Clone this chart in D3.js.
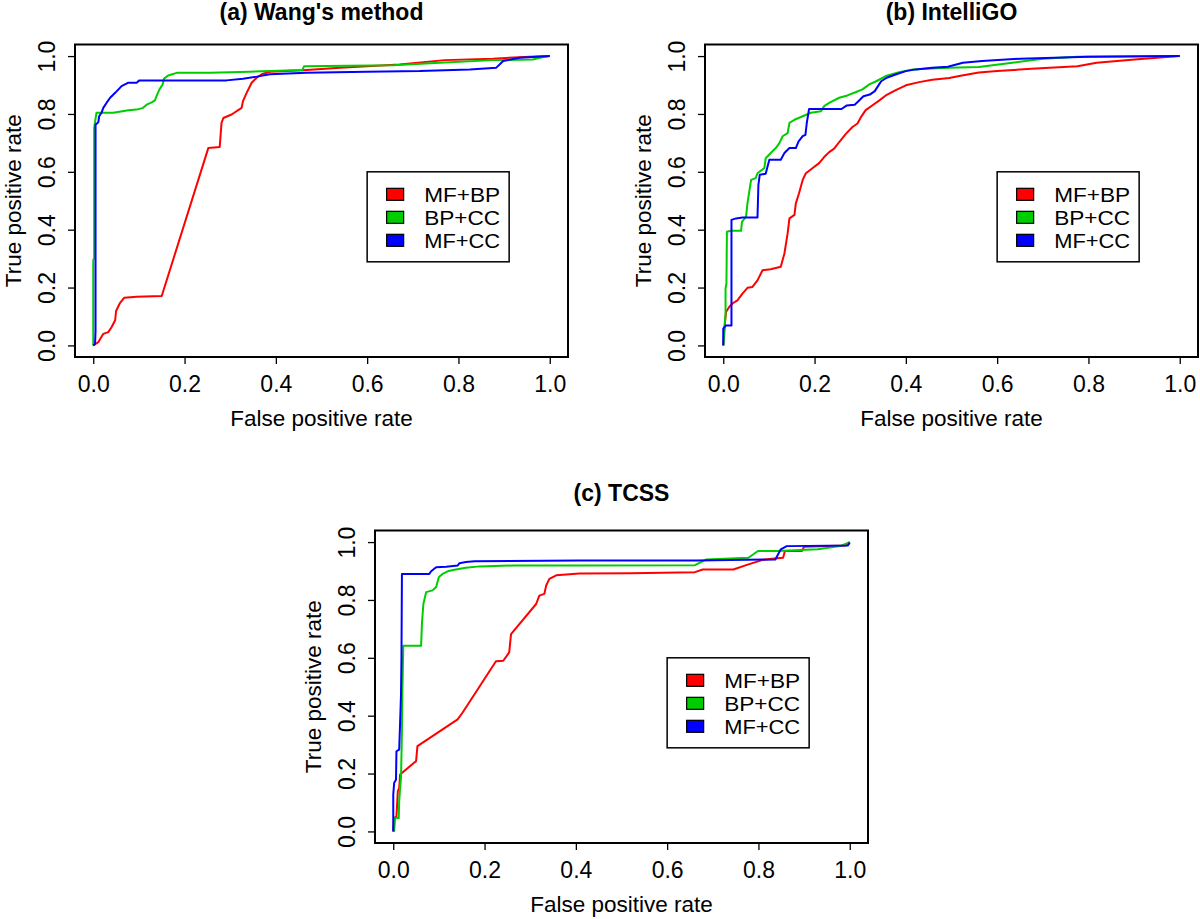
<!DOCTYPE html>
<html>
<head>
<meta charset="utf-8">
<script src="https://cdn.jsdelivr.net/npm/d3@7"></script>
<style>
  body { margin: 0; background: #fff; }
  svg { display: block; font-family: "Liberation Sans", Arial, Helvetica, sans-serif; }
</style>
</head>
<body>
<svg id="chart" width="1200" height="919"></svg>
<script>
// ---------------- Data (FPR, TPR) ----------------
const seriesNames = ["MF+BP", "BP+CC", "MF+CC"];
const seriesColors = ["#FF0000", "#00CD00", "#0000FF"];
const panelTitles = ["(a) Wang's method", "(b) IntelliGO", "(c) TCSS"];
const xLabel = "False positive rate";
const yLabel = "True positive rate";
const tickValues = [0, 0.2, 0.4, 0.6, 0.8, 1.0];

const wangMFBP = [[0,0],[.011,.011],[.022,.04],[.033,.046],[.040,.063],[.048,.087],[.050,.119],[.058,.145],[.068,.165],[.095,.168],[.150,.171],[.252,.682],[.277,.686],[.281,.769],[.285,.786],[.303,.798],[.325,.821],[.328,.844],[.336,.873],[.347,.908],[.358,.925],[.369,.937],[.387,.946],[.460,.951],[.540,.960],[.671,.971],[.770,.986],[.876,.991],[.956,.998],[1,1]];
const wangBPCC = [[0,0],[0,.295],[.002,.30],[.002,.752],[.007,.804],[.044,.804],[.077,.813],[.095,.815],[.109,.821],[.117,.832],[.128,.840],[.135,.847],[.140,.867],[.145,.885],[.152,.902],[.155,.922],[.164,.933],[.183,.942],[.256,.942],[.343,.946],[.387,.948],[.458,.952],[.462,.965],[.657,.968],[.759,.977],[.876,.986],[.963,.988],[.978,.994],[1,1]];
const wangMFCC = [[0,0],[.004,.005],[.005,.05],[.005,.763],[.011,.771],[.013,.792],[.018,.804],[.022,.821],[.029,.838],[.037,.856],[.048,.873],[.062,.896],[.077,.908],[.095,.908],[.101,.916],[.292,.916],[.328,.922],[.358,.929],[.387,.937],[.467,.942],[.599,.946],[.715,.948],[.825,.954],[.883,.960],[.898,.983],[.934,.994],[1,1]];

const intelliMFBP = [[0,0],[.004,.081],[.006,.116],[.013,.133],[.020,.145],[.031,.156],[.042,.179],[.053,.199],[.064,.202],[.075,.225],[.086,.260],[.104,.263],[.126,.272],[.134,.318],[.141,.387],[.145,.439],[.156,.451],[.159,.491],[.166,.526],[.174,.572],[.181,.595],[.196,.613],[.210,.630],[.221,.651],[.232,.668],[.243,.680],[.254,.703],[.269,.732],[.283,.755],[.294,.767],[.302,.790],[.312,.813],[.327,.830],[.342,.847],[.356,.864],[.378,.882],[.400,.899],[.429,.910],[.458,.918],[.495,.924],[.520,.932],[.560,.943],[.600,.948],[.675,.956],[.776,.965],[.818,.977],[.901,.988],[1,1]];
const intelliBPCC = [[0,0],[.002,.03],[.002,.052],[.005,.11],[.005,.197],[.007,.214],[.008,.393],[.017,.396],[.039,.396],[.041,.427],[.050,.445],[.053,.491],[.057,.532],[.061,.572],[.071,.578],[.075,.595],[.090,.613],[.093,.647],[.104,.665],[.115,.682],[.123,.699],[.130,.723],[.141,.734],[.145,.769],[.156,.780],[.174,.792],[.192,.804],[.214,.809],[.221,.827],[.232,.838],[.254,.856],[.272,.864],[.291,.876],[.305,.885],[.320,.902],[.335,.913],[.356,.931],[.385,.944],[.415,.954],[.444,.956],[.495,.960],[.560,.962],[.633,.977],[.700,.991],[.776,.998],[1,1]];
const intelliMFCC = [[0,0],[0,.058],[.006,.069],[.018,.069],[.018,.434],[.028,.439],[.042,.442],[.075,.442],[.077,.555],[.080,.590],[.093,.593],[.098,.624],[.101,.642],[.126,.642],[.134,.665],[.145,.682],[.159,.682],[.165,.705],[.174,.723],[.180,.728],[.183,.769],[.188,.817],[.214,.817],[.259,.817],[.270,.829],[.288,.832],[.296,.844],[.307,.861],[.321,.867],[.332,.879],[.339,.896],[.346,.913],[.358,.925],[.379,.937],[.400,.948],[.422,.954],[.458,.960],[.492,.963],[.525,.977],[.567,.983],[.650,.991],[.800,.998],[1,1]];

const tcssMFBP = [[0,0],[0,.006],[.002,.046],[.007,.052],[.010,.139],[.013,.150],[.015,.197],[.050,.243],[.053,.295],[.141,.387],[.152,.411],[.225,.588],[.241,.590],[.254,.619],[.258,.682],[.313,.786],[.320,.815],[.331,.821],[.335,.850],[.342,.873],[.357,.885],[.379,.888],[.408,.891],[.520,.892],[.661,.896],[.678,.905],[.745,.905],[.778,.923],[.812,.940],[.854,.946],[.858,.969],[.895,.969],[.900,.984],[.990,.988],[1,1]];
const tcssBPCC = [[0,0],[.002,.002],[.004,.046],[.012,.046],[.013,.104],[.015,.150],[.017,.185],[.019,.347],[.020,.486],[.022,.642],[.061,.642],[.063,.723],[.066,.786],[.072,.827],[.086,.833],[.094,.845],[.100,.879],[.108,.890],[.119,.899],[.134,.904],[.159,.911],[.189,.916],[.262,.919],[.408,.919],[.661,.920],[.686,.940],[.778,.946],[.799,.969],[.841,.969],[.930,.975],[.979,.986],[1,1]];
const tcssMFCC = [[0,0],[0,.127],[.002,.168],[.006,.179],[.007,.277],[.013,.283],[.015,.376],[.017,.474],[.018,.601],[.019,.890],[.079,.890],[.083,.899],[.094,.913],[.116,.915],[.141,.919],[.145,.927],[.159,.931],[.178,.934],[.408,.936],[.665,.936],[.837,.940],[.849,.975],[.862,.986],[.996,.988],[1,.998]];

const panelSeries = [
  [wangMFBP, wangBPCC, wangMFCC],
  [intelliMFBP, intelliBPCC, intelliMFCC],
  [tcssMFBP, tcssBPCC, tcssMFCC]
];

// ---------------- Layout ----------------
const W = 493, H = 312.5;
const panelPos = [
  {left: 75, top: 44.5, titleY: -25},
  {left: 705, top: 44.5, titleY: -25},
  {left: 375, top: 530.5, titleY: -30}
];
const FONT = 22.5;
const TICKFONT = 23;
const LEGFONT = 21;

const svg = d3.select("#chart");
svg.append("rect").attr("width", 1200).attr("height", 919).attr("fill", "#fff");

const x = d3.scaleLinear().domain([-0.04, 1.04]).range([0, W]);
const y = d3.scaleLinear().domain([-0.04, 1.04]).range([H, 0]);
const fmt = d3.format(".1f");

panelPos.forEach((p, i) => {
  const g = svg.append("g").attr("transform", `translate(${p.left},${p.top})`);

  // title
  g.append("text")
    .attr("x", W / 2).attr("y", p.titleY)
    .attr("text-anchor", "middle")
    .attr("font-size", 23).attr("font-weight", "bold")
    .text(panelTitles[i]);

  // x axis
  const xa = g.append("g").attr("transform", `translate(0,${H})`)
    .call(d3.axisBottom(x).tickValues(tickValues).tickSize(7).tickSizeOuter(0).tickFormat(fmt));
  xa.select(".domain").remove();
  xa.selectAll(".tick line").attr("stroke", "#000").attr("stroke-width", 1.3);
  xa.selectAll(".tick text")
    .attr("y", 35).attr("dy", null)
    .attr("font-size", TICKFONT).attr("font-family", null).attr("fill", "#000");

  // y axis
  const ya = g.append("g")
    .call(d3.axisLeft(y).tickValues(tickValues).tickSize(7).tickSizeOuter(0).tickFormat(fmt));
  ya.select(".domain").remove();
  ya.selectAll(".tick line").attr("stroke", "#000").attr("stroke-width", 1.3);
  ya.selectAll(".tick text")
    .attr("x", null).attr("dy", null)
    .attr("transform", "translate(-20,0) rotate(-90)")
    .attr("text-anchor", "middle")
    .attr("font-size", TICKFONT).attr("font-family", null).attr("fill", "#000");

  // axis titles
  g.append("text")
    .attr("x", W / 2).attr("y", H + 69)
    .attr("text-anchor", "middle").attr("font-size", FONT)
    .text(xLabel);
  g.append("text")
    .attr("transform", `translate(-54,${y(0.5)}) rotate(-90)`)
    .attr("text-anchor", "middle").attr("font-size", FONT)
    .text(yLabel);

  // curves
  const line = d3.line().x(d => x(d[0])).y(d => y(d[1]));
  panelSeries[i].forEach((s, k) => {
    g.append("path").datum(s)
      .attr("d", line)
      .attr("fill", "none")
      .attr("stroke", seriesColors[k])
      .attr("stroke-width", 2)
      .attr("stroke-linejoin", "round");
  });

  // box
  g.append("rect")
    .attr("x", 0).attr("y", 0).attr("width", W).attr("height", H)
    .attr("fill", "none").attr("stroke", "#000").attr("stroke-width", 2);

  // legend
  const lg = g.append("g").attr("transform", `translate(${x(0.6)},${y(0.6)})`);
  lg.append("rect").attr("width", 142).attr("height", 90)
    .attr("fill", "#fff").attr("stroke", "#000").attr("stroke-width", 1.5);
  seriesNames.forEach((n, k) => {
    const cy = 22.5 + k * 23;
    lg.append("rect")
      .attr("x", 19.5).attr("y", cy - 6).attr("width", 17).attr("height", 12)
      .attr("fill", seriesColors[k]).attr("stroke", "#000").attr("stroke-width", 1.2);
    lg.append("text")
      .attr("x", 57).attr("y", cy + 7.5)
      .attr("font-size", LEGFONT)
      .attr("textLength", 76).attr("lengthAdjust", "spacingAndGlyphs")
      .text(n);
  });
});
</script>
</body>
</html>
